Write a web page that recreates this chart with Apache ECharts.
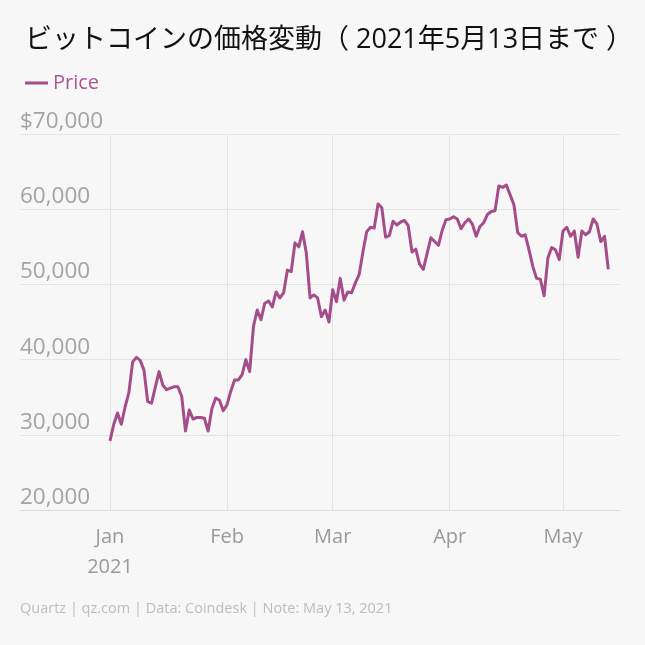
<!DOCTYPE html>
<html>
<head>
<meta charset="utf-8">
<script src="https://cdn.jsdelivr.net/npm/echarts@6/dist/echarts.min.js"></script>
<style>
html,body{margin:0;padding:0;background:#f7f7f7;}
#c{width:645px;height:645px;}
</style>
</head>
<body>
<div id="c"></div>
<script>
// Daily prices (USD), starting Jan 1 2021
const janPrices = [29200,31400,32900,31400,33700,35600,39700,40300,39900,38600,34400,34200,36300,38400,36600,36000,36200,36400,36400,35100,30500,33300,32100,32300,32300,32200,30500,33500,34900,34600,33200];
const febPrices = [34000,35800,37300,37300,38000,40000,38400,44400,46600,45300,47500,47800,47000,49000,48200,48900,51900,51700,55500,55000,57000,54200,48200,48600,48200,45700,46600,45000];
const marPrices = [49300,47700,50800,47900,49000,48900,50200,51300,54300,57000,57600,57500,60700,60200,56300,56500,58400,57900,58300,58500,57800,54300,54700,52700,52000,54100,56200,55700,55200,57200,58600];
const aprPrices = [58700,59000,58700,57400,58200,58700,58000,56400,57700,58200,59300,59700,59800,63100,62900,63200,61900,60600,56900,56400,56600,54600,52400,50800,50700,48500,53500,54900,54600,53300];
const mayPrices = [57100,57600,56400,57100,53600,57100,56600,57000,58700,58000,55700,56400,52000];

const monthStarts = ['2021-01-01', '2021-02-01', '2021-03-01', '2021-04-01', '2021-05-01'];
const monthLabels = ['Jan\n2021', 'Feb', 'Mar', 'Apr', 'May'];
const yTicks = [20000, 30000, 40000, 50000, 60000, 70000];

const DAY = 86400000;
const startDate = Date.parse('2021-01-01T00:00:00Z');
const dayOf = s => Math.round((Date.parse(s + 'T00:00:00Z') - startDate) / DAY);
const monthTicks = monthStarts.map(dayOf);
const prices = [].concat(janPrices, febPrices, marPrices, aprPrices, mayPrices);
const seriesData = prices.map((p, i) => [i, p]);

const chart = echarts.init(document.getElementById('c'), null, {renderer: 'canvas'});
const FONT = '"Open Sans", Roboto, sans-serif';
const COLOR = '#a54d8a';

chart.setOption({
  backgroundColor: '#f7f7f7',
  animation: false,
  title: {
    text: 'ビットコインの価格変動（ 2021年5月13日まで ）',
    left: 20, top: 22,
    textStyle: {fontFamily: '"Open Sans", "Noto Sans CJK JP", sans-serif', fontSize: 27, fontWeight: 'normal', color: '#111'}
  },
  legend: {
    left: 20, top: 68,
    icon: 'rect', itemWidth: 23, itemHeight: 3, itemGap: 8,
    textStyle: {fontFamily: FONT, fontSize: 20, color: '#ac5890'},
    data: ['Price']
  },
  grid: {left: 20, right: 25, top: 134, bottom: 135},
  xAxis: {
    type: 'value',
    min: -23.84,
    max: 135.1,
    axisLine: {show: true, lineStyle: {color: '#dcdcdc', width: 1}},
    axisTick: {show: false, customValues: monthTicks},
    splitLine: {show: true, lineStyle: {color: '#e4e4e4', width: 1}},
    axisLabel: {
      customValues: monthTicks,
      formatter: function (v) {
        const idx = monthTicks.indexOf(v);
        return idx >= 0 ? monthLabels[idx] : '';
      },
      fontFamily: FONT, fontSize: 20, color: '#9a9a9a', lineHeight: 30, margin: 12
    }
  },
  yAxis: {
    type: 'value',
    min: 20000, max: 70000, interval: 10000,
    axisLine: {show: false},
    axisTick: {show: false},
    splitLine: {lineStyle: {color: '#e4e4e4', width: 1}},
    axisLabel: {
      inside: true, margin: 0,
      align: 'left', verticalAlign: 'bottom',
      padding: [0, 0, 1, 0],
      fontFamily: FONT, fontSize: 22.5, color: '#a3a3a3',
      formatter: function (v) {
        const s = v.toLocaleString('en-US');
        return v === 70000 ? '$' + s : s;
      }
    }
  },
  series: [{
    name: 'Price',
    type: 'line',
    data: seriesData,
    showSymbol: false,
    symbol: 'none',
    lineStyle: {color: COLOR, width: 3, join: 'round'},
    itemStyle: {color: COLOR}
  }],
  graphic: [{
    type: 'text', left: 20, top: 601,
    style: {text: 'Quartz | qz.com | Data: Coindesk | Note: May 13, 2021', fontFamily: FONT, fontSize: 14.5, fill: '#bdbdbd'}
  }]
});
</script>
</body>
</html>
